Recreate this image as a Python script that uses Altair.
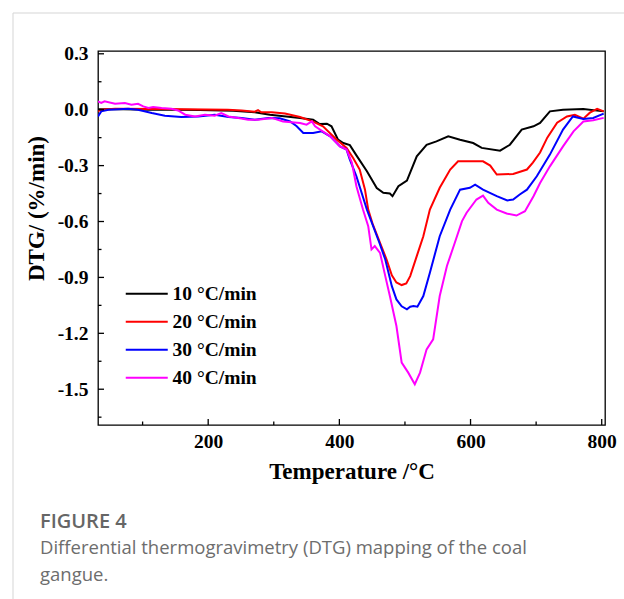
import altair as alt
import pandas as pd

series = ["10 °C/min", "20 °C/min", "30 °C/min", "40 °C/min"]
colors = ["#000000", "#ff0000", "#0000ff", "#ff00ff"]

t10 = [32, 70, 111, 150, 187, 238, 271, 294, 340, 360, 370, 381, 388, 398, 406, 416, 426, 442, 457, 467,
       477, 481, 490, 503, 518, 533, 548, 566, 584, 604, 617, 645, 660, 678, 696, 706, 721, 741, 772, 803]
y10 = [0.002, 0.003, 0.0, 0.0, -0.001, -0.005, -0.014, -0.027, -0.045, -0.054, -0.077, -0.075, -0.089, -0.161,
       -0.179, -0.190, -0.245, -0.330, -0.420, -0.446, -0.450, -0.464, -0.411, -0.380, -0.250, -0.188, -0.170,
       -0.143, -0.161, -0.179, -0.205, -0.220, -0.188, -0.107, -0.089, -0.071, -0.009, 0.0, 0.004, -0.009]

t20 = [32, 37, 58, 129, 230, 251, 271, 276, 281, 297, 317, 340, 360, 375, 396, 411, 421, 431, 439, 444,
       451, 462, 472, 480, 487, 495, 502, 508, 518, 528, 538, 553, 569, 581, 599, 619, 630, 640, 665, 686,
       695, 706, 717, 732, 747, 759, 772, 782, 793, 803]
y20 = [-0.008, 0.0, 0.005, 0.004, 0.0, -0.004, -0.011, -0.002, -0.014, -0.014, -0.021, -0.039, -0.064, -0.089,
       -0.161, -0.205, -0.259, -0.321, -0.428, -0.536, -0.616, -0.714, -0.804, -0.889, -0.927, -0.941, -0.932,
       -0.893, -0.786, -0.679, -0.536, -0.419, -0.321, -0.277, -0.277, -0.277, -0.300, -0.348, -0.345, -0.321,
       -0.284, -0.230, -0.150, -0.070, -0.036, -0.027, -0.048, -0.016, 0.005, -0.009]

t30 = [32, 37, 48, 78, 93, 114, 134, 159, 185, 210, 231, 251, 271, 292, 309, 325, 335, 345, 360, 373,
       386, 401, 411, 416, 426, 442, 461, 470, 480, 487, 495, 503, 508, 513, 519, 528, 538, 553, 569, 584,
       599, 607, 619, 640, 656, 665, 675, 686, 701, 721, 741, 756, 772, 787, 803]
y30 = [-0.036, -0.009, 0.0, 0.005, 0.0, -0.018, -0.032, -0.039, -0.036, -0.027, -0.039, -0.044, -0.054, -0.044,
       -0.046, -0.063, -0.089, -0.125, -0.125, -0.116, -0.143, -0.197, -0.214, -0.268, -0.357, -0.536, -0.714,
       -0.804, -0.947, -1.018, -1.055, -1.071, -1.057, -1.054, -1.057, -1.000, -0.875, -0.679, -0.536, -0.429,
       -0.419, -0.402, -0.429, -0.464, -0.487, -0.482, -0.455, -0.429, -0.357, -0.241, -0.107, -0.036, -0.050,
       -0.044, -0.021]

t40 = [32, 37, 42, 58, 73, 83, 93, 101, 109, 116, 129, 144, 154, 165, 180, 195, 210, 220, 231, 246,
       261, 276, 297, 314, 340, 350, 358, 363, 386, 401, 411, 419, 426, 436, 444, 449, 454, 462, 470, 477,
       487, 495, 505, 515, 523, 533, 543, 553, 564, 576, 587, 594, 609, 619, 627, 640, 655, 670, 683, 696,
       706, 721, 741, 757, 772, 787, 803]
y40 = [0.045, 0.036, 0.045, 0.032, 0.036, 0.027, 0.032, 0.018, 0.009, 0.014, 0.009, 0.005, -0.004, -0.027,
       -0.036, -0.027, -0.032, -0.018, -0.036, -0.044, -0.054, -0.054, -0.044, -0.063, -0.071, -0.080, -0.063,
       -0.089, -0.143, -0.197, -0.214, -0.284, -0.411, -0.536, -0.625, -0.750, -0.732, -0.768, -0.893, -1.000,
       -1.161, -1.357, -1.411, -1.473, -1.411, -1.286, -1.232, -1.000, -0.839, -0.714, -0.598, -0.553, -0.482,
       -0.461, -0.500, -0.536, -0.557, -0.568, -0.545, -0.464, -0.393, -0.304, -0.197, -0.116, -0.063, -0.057,
       -0.044]

x_major = [200, 400, 600, 800]
x_minor = [100, 300, 500, 700]
y_major = [0.3, 0.0, -0.3, -0.6, -0.9, -1.2, -1.5]
y_minor = [0.15, -0.15, -0.45, -0.75, -1.05, -1.35, -1.65]

caption_head = ["FIGURE 4"]
caption_line1 = ["Differential thermogravimetry (DTG) mapping of the coal"]
caption_line2 = ["gangue."]

rows = []
for name, ts, ys in zip(series, [t10, t20, t30, t40], [y10, y20, y30, y40]):
    for i, (t, y) in enumerate(zip(ts, ys)):
        rows.append({"rate": name, "T": t, "DTG": y, "i": i})
df = pd.DataFrame(rows)

W, H = 507, 374
LEFT, TOP = 98, 51
SERIF = "Liberation Serif"

xscale = alt.Scale(domain=[32, 805], nice=False, zero=False)
yscale = alt.Scale(domain=[-1.692, 0.315], nice=False, zero=False)

x_axis = alt.Axis(values=x_major, title="Temperature /°C", format="d",
                  labelPadding=7, titleBaseline="alphabetic", titleY=53)
y_axis = alt.Axis(values=y_major, title="DTG/ (%/min)",
                  labelExpr="replace(format(datum.value, '.1f'), '\u2212', '-')",
                  labelPadding=10, titleBaseline="alphabetic",
                  titleX=43 - LEFT, titleY=208 - TOP)

lines = alt.Chart(df).mark_line(strokeWidth=2, clip=True).encode(
    x=alt.X("T:Q", scale=xscale, axis=x_axis),
    y=alt.Y("DTG:Q", scale=yscale, axis=y_axis),
    color=alt.Color("rate:N", scale=alt.Scale(domain=series, range=colors),
                    legend=alt.Legend(orient="none", legendX=39, legendY=233, title=None,
                                      symbolType="M-3,0H3", symbolSize=196, symbolStrokeWidth=2,
                                      labelFont=SERIF, labelFontWeight="bold", labelFontSize=19.5,
                                      labelColor="black", labelOffset=16, rowPadding=7, padding=0)),
    order="i:Q",
)

ytick_major = alt.Chart(pd.DataFrame({"DTG": y_major})).mark_rule(color="black", strokeWidth=1.3).encode(
    y=alt.Y("DTG:Q", scale=yscale, axis=y_axis), x=alt.value(0), x2=alt.value(6))
ytick_minor = alt.Chart(pd.DataFrame({"DTG": y_minor})).mark_rule(color="black", strokeWidth=1.3).encode(
    y=alt.Y("DTG:Q", scale=yscale, axis=y_axis), x=alt.value(0), x2=alt.value(3.5))
xtick_major = alt.Chart(pd.DataFrame({"T": x_major})).mark_rule(color="black", strokeWidth=1.3).encode(
    x=alt.X("T:Q", scale=xscale, axis=x_axis), y=alt.value(H), y2=alt.value(H - 6))
xtick_minor = alt.Chart(pd.DataFrame({"T": x_minor})).mark_rule(color="black", strokeWidth=1.3).encode(
    x=alt.X("T:Q", scale=xscale, axis=x_axis), y=alt.value(H), y2=alt.value(H - 3.5))

border_left = alt.Chart(pd.DataFrame({"k": [0]})).mark_rule(color="#d5d5d5", strokeWidth=1).encode(
    x=alt.value(13 - LEFT), y=alt.value(13 - TOP), y2=alt.value(599 - TOP))
border_top = alt.Chart(pd.DataFrame({"k": [0]})).mark_rule(color="#d5d5d5", strokeWidth=1).encode(
    x=alt.value(13 - LEFT), x2=alt.value(624 - LEFT), y=alt.value(13 - TOP))

cap0 = alt.Chart(pd.DataFrame({"t": caption_head})).mark_text(
    align="left", baseline="alphabetic", font="Open Sans", fontSize=20, fontWeight=600, color="#666666"
).encode(x=alt.value(40 - LEFT), y=alt.value(528 - TOP), text="t:N")
cap1 = alt.Chart(pd.DataFrame({"t": caption_line1})).mark_text(
    align="left", baseline="alphabetic", font="Open Sans", fontSize=18.5, color="#6d6d6d"
).encode(x=alt.value(40 - LEFT), y=alt.value(554 - TOP), text="t:N")
cap2 = alt.Chart(pd.DataFrame({"t": caption_line2})).mark_text(
    align="left", baseline="alphabetic", font="Open Sans", fontSize=18.5, color="#6d6d6d"
).encode(x=alt.value(40 - LEFT), y=alt.value(581 - TOP), text="t:N")

chart = alt.layer(
    border_left, border_top, lines, ytick_major, ytick_minor, xtick_major, xtick_minor, cap0, cap1, cap2
).properties(
    width=W, height=H,
    padding={"left": LEFT, "top": TOP, "right": 624 - LEFT - W, "bottom": 599 - TOP - H},
    autosize=alt.AutoSizeParams(type="none"),
    background="white",
).configure_view(
    stroke="black", strokeWidth=1.3
).configure_axis(
    domain=False, ticks=False, grid=False,
    labelFont=SERIF, labelFontWeight="bold", labelFontSize=19.5, labelColor="black",
    titleFont=SERIF, titleFontWeight="bold", titleFontSize=23, titleColor="black",
)

chart.save("out.html", embed_options={"renderer": "svg", "actions": False})
